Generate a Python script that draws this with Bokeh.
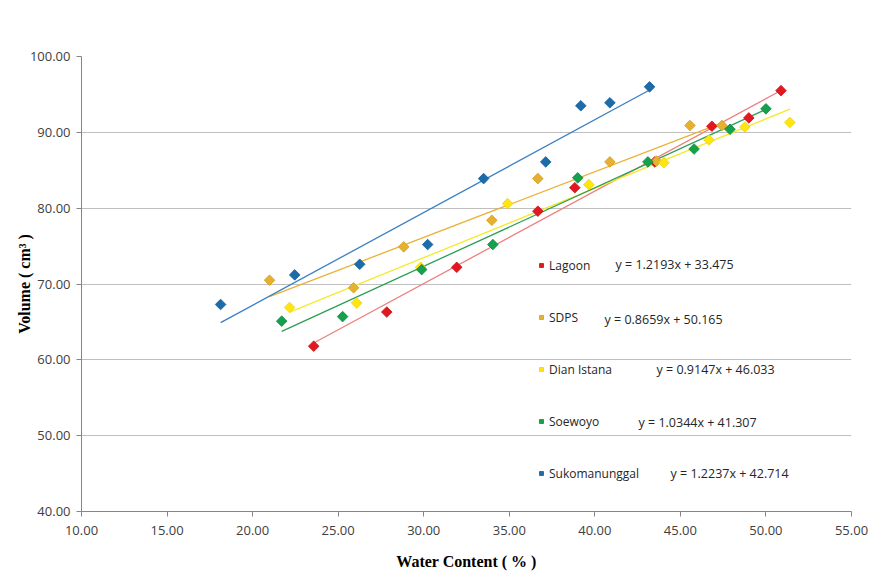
import math
from bokeh.plotting import figure
from bokeh.models import Range1d, NumeralTickFormatter, SingleIntervalTicker, Legend, LegendItem, Label
from bokeh.embed import file_html
from bokeh.resources import INLINE

# ---------------- data ----------------
series_names = ["Lagoon", "SDPS", "Dian Istana", "Soewoyo", "Sukomanunggal"]

lagoon_x = [23.57, 27.84, 31.93, 36.67, 38.83, 43.50, 46.84, 49.00, 50.88]
lagoon_y = [61.8, 66.3, 72.2, 79.6, 82.7, 86.1, 90.8, 91.9, 95.5]

sdps_x = [20.99, 25.90, 28.83, 33.98, 36.67, 40.88, 43.60, 45.56, 47.43]
sdps_y = [70.5, 69.5, 74.9, 78.4, 83.9, 86.1, 86.2, 90.9, 90.9]

dian_x = [22.16, 26.08, 29.82, 34.90, 39.65, 44.04, 46.67, 48.77, 51.40]
dian_y = [66.9, 67.5, 72.2, 80.6, 83.1, 86.0, 89.0, 90.7, 91.3]

soewoyo_x = [21.70, 25.26, 29.88, 34.04, 39.00, 43.10, 45.80, 47.90, 50.00]
soewoyo_y = [65.1, 65.7, 71.9, 75.2, 84.0, 86.1, 87.8, 90.4, 93.1]

suko_x = [18.13, 22.46, 26.26, 30.23, 33.50, 37.13, 39.18, 40.88, 43.20]
suko_y = [67.3, 71.2, 72.6, 75.2, 83.9, 86.1, 93.5, 93.9, 96.0]

slopes = [1.2193, 0.8659, 0.9147, 1.0344, 1.2237]
intercepts = [33.475, 50.165, 46.033, 41.307, 42.714]
equations = ["y = 1.2193x + 33.475", "y = 0.8659x + 50.165", "y = 0.9147x + 46.033",
             "y = 1.0344x + 41.307", "y = 1.2237x + 42.714"]

xs_all = [lagoon_x, sdps_x, dian_x, soewoyo_x, suko_x]
ys_all = [lagoon_y, sdps_y, dian_y, soewoyo_y, suko_y]

# ---------------- styles ----------------
marker_colors = ["#E3171F", "#E6B12E", "#FFE610", "#14A04C", "#1A6CAB"]
marker_lines = ["#C81018", "#D09C20", "#F0D000", "#0E8A40", "#145E98"]
trend_colors = ["#EE7F7C", "#EBB036", "#F4EA2C", "#2A9E52", "#3A7FC2"]
# equation label placement (screen px, relative to plot frame: left / bottom)
eq_sx = [534, 523, 575, 557, 589]
eq_sy = [247, 192, 142, 89, 38]

FONT = "Open Sans"

p = figure(width=875, height=572, output_backend="svg", toolbar_location=None,
           x_range=Range1d(10, 55), y_range=Range1d(40, 100),
           min_border_left=81, min_border_right=24, min_border_top=56, min_border_bottom=61)
p.outline_line_color = None
p.background_fill_color = "white"
p.border_fill_color = "white"

p.xaxis.ticker = SingleIntervalTicker(interval=5, num_minor_ticks=0)
p.yaxis.ticker = SingleIntervalTicker(interval=10, num_minor_ticks=0)
p.xaxis.formatter = NumeralTickFormatter(format="0.00")
p.yaxis.formatter = NumeralTickFormatter(format="0.00")
for ax in (p.xaxis, p.yaxis):
    ax.axis_line_color = "#868686"
    ax.major_tick_line_color = "#868686"
    ax.major_tick_out = 5
    ax.major_tick_in = 0
    ax.minor_tick_line_color = None
    ax.major_label_text_font = FONT
    ax.major_label_text_font_size = "13px"
    ax.major_label_text_color = "#404040"
    ax.axis_label_text_font = "Liberation Serif"
    ax.axis_label_text_font_style = "bold"
    ax.axis_label_text_font_size = "16px"
    ax.axis_label_text_color = "#000000"
p.xaxis.major_label_standoff = 9
p.yaxis.major_label_standoff = 6
p.xaxis.axis_label = "Water Content ( % )"
p.yaxis.axis_label = "Volume ( cm\u00b3 )"
p.xaxis.axis_label_standoff = 15
p.yaxis.axis_label_standoff = -6

p.xgrid.grid_line_color = None
p.ygrid.grid_line_color = "#BFBFBF"
p.ygrid.grid_line_width = 1

# trend lines
for i in range(5):
    x0, x1 = min(xs_all[i]), max(xs_all[i])
    p.line([x0, x1], [slopes[i] * x0 + intercepts[i], slopes[i] * x1 + intercepts[i]],
           line_color=trend_colors[i], line_width=1.3)

renderers = []
for i in range(5):
    r = p.scatter(xs_all[i], ys_all[i], marker="square", size=7.5, angle=math.pi / 4,
                  fill_color=marker_colors[i], line_color=marker_lines[i], line_width=0.8)
    renderers.append(r)

legend = Legend(items=[LegendItem(label=series_names[i], renderers=[renderers[i]]) for i in range(5)],
                location=(455, 28), orientation="vertical",
                background_fill_alpha=0, border_line_color=None,
                padding=0, margin=0, spacing=32,
                glyph_width=10, glyph_height=20, label_height=20, label_standoff=3,
                label_text_font=FONT, label_text_font_size="12px", label_text_color="#262626")
p.add_layout(legend, "center")

for i in range(5):
    p.add_layout(Label(x=eq_sx[i], y=eq_sy[i], x_units="screen", y_units="screen",
                       text=equations[i], text_font=FONT, text_font_size="12.5px",
                       text_color="#262626", text_baseline="middle", text_align="left"))

open("out.html", "w").write(file_html(p, INLINE))
